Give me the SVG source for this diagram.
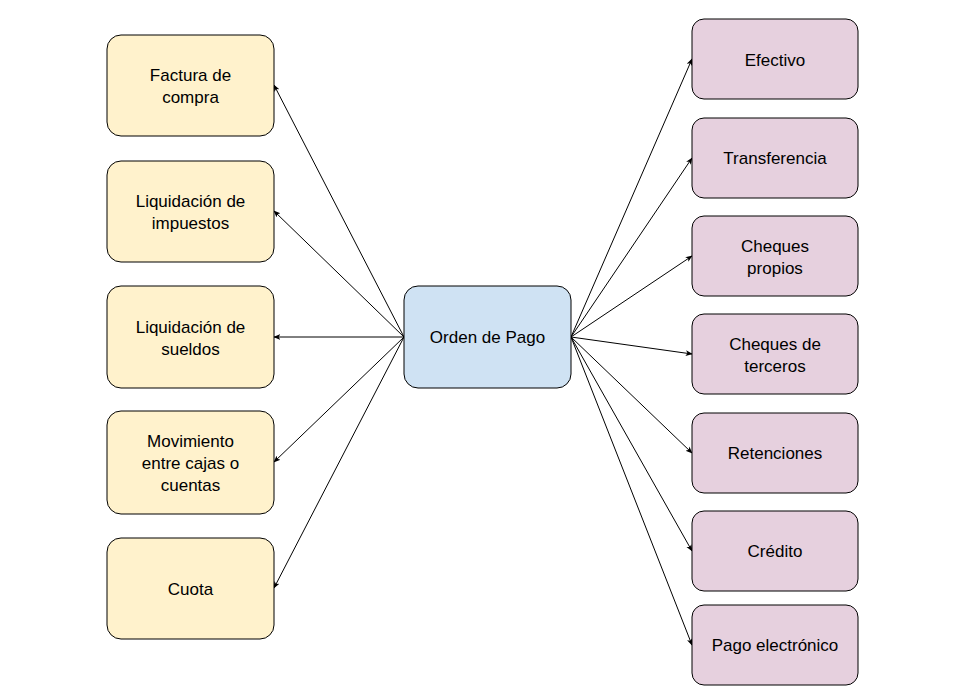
<svg xmlns="http://www.w3.org/2000/svg" width="960" height="687" viewBox="0 0 960 687">
<style>
rect{stroke:#000;stroke-width:1}
.y{fill:#fff2cc}.p{fill:#e6d0de}.b{fill:#cfe2f3}
text{font-family:"Liberation Sans",Arial,sans-serif;font-size:17px;fill:#000;text-anchor:middle}
#edges line{stroke:#000;stroke-width:1;marker-end:url(#a)}
</style>
<defs><marker id="a" viewBox="0 0 10 10" refX="9" refY="5" markerWidth="7" markerHeight="7" orient="auto" markerUnits="userSpaceOnUse"><path d="M0,1 L10,5 L0,9 L2.5,5 Z" fill="#000"/></marker></defs>
<rect x="0" y="0" width="960" height="687" fill="#fff" style="stroke:none"/>
<g id="edges">
<line x1="404" y1="337" x2="274" y2="85"/>
<line x1="404" y1="337" x2="274" y2="211"/>
<line x1="404" y1="337" x2="274" y2="337"/>
<line x1="404" y1="337" x2="274" y2="462"/>
<line x1="404" y1="337" x2="274" y2="588"/>
<line x1="571" y1="337" x2="692" y2="59"/>
<line x1="571" y1="337" x2="692" y2="158"/>
<line x1="571" y1="337" x2="692" y2="256"/>
<line x1="571" y1="337" x2="692" y2="354"/>
<line x1="571" y1="337" x2="692" y2="453"/>
<line x1="571" y1="337" x2="692" y2="551"/>
<line x1="571" y1="337" x2="692" y2="645"/>
</g>
<g id="center"><rect class="b" x="404" y="286" width="167" height="102" rx="14"/><text x="487.5" y="343">Orden de Pago</text></g>
<g id="l1"><rect class="y" x="107" y="35" width="167" height="101" rx="14"/><text x="190.5" y="81">Factura de</text><text x="190.5" y="103">compra</text></g>
<g id="l2"><rect class="y" x="107" y="161" width="167" height="101" rx="14"/><text x="190.5" y="207">Liquidación de</text><text x="190.5" y="229">impuestos</text></g>
<g id="l3"><rect class="y" x="107" y="286" width="167" height="102" rx="14"/><text x="190.5" y="333">Liquidación de</text><text x="190.5" y="355">sueldos</text></g>
<g id="l4"><rect class="y" x="107" y="411" width="167" height="103" rx="14"/><text x="190.5" y="447">Movimiento</text><text x="190.5" y="469">entre cajas o</text><text x="190.5" y="491">cuentas</text></g>
<g id="l5"><rect class="y" x="107" y="538" width="167" height="101" rx="14"/><text x="190.5" y="595">Cuota</text></g>
<g id="r1"><rect class="p" x="692" y="19" width="166" height="80" rx="12"/><text x="775" y="66">Efectivo</text></g>
<g id="r2"><rect class="p" x="692" y="118" width="166" height="80" rx="12"/><text x="775" y="164">Transferencia</text></g>
<g id="r3"><rect class="p" x="692" y="216" width="166" height="80" rx="12"/><text x="775" y="252">Cheques</text><text x="775" y="274">propios</text></g>
<g id="r4"><rect class="p" x="692" y="314" width="166" height="80" rx="12"/><text x="775" y="350">Cheques de</text><text x="775" y="372">terceros</text></g>
<g id="r5"><rect class="p" x="692" y="413" width="166" height="80" rx="12"/><text x="775" y="459">Retenciones</text></g>
<g id="r6"><rect class="p" x="692" y="511" width="166" height="80" rx="12"/><text x="775" y="557">Crédito</text></g>
<g id="r7"><rect class="p" x="692" y="605" width="166" height="80" rx="12"/><text x="775" y="651">Pago electrónico</text></g>
</svg>
